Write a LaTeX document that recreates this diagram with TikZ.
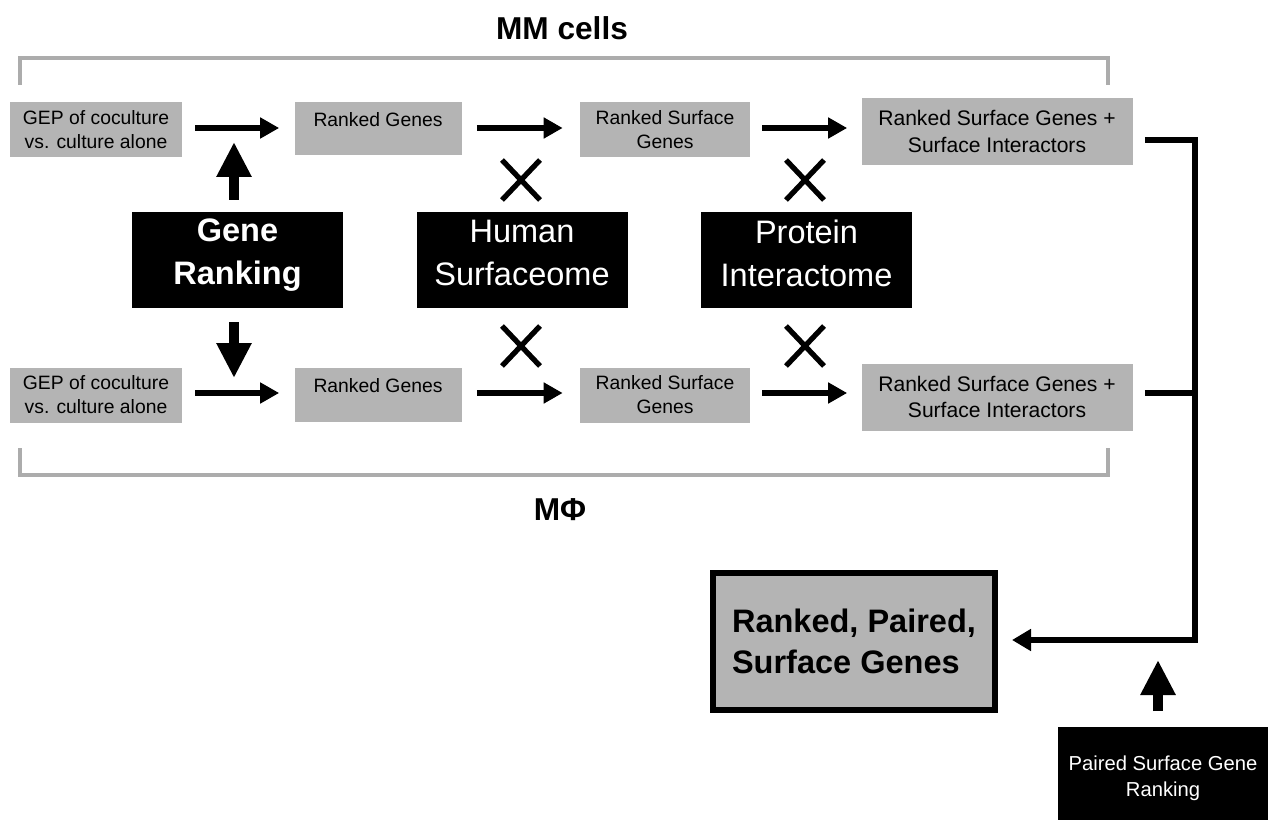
\documentclass[tikz,border=0pt]{standalone}
\usepackage{fontspec}
\setmainfont{Liberation Sans}
\usetikzlibrary{arrows.meta}

\definecolor{grigio}{RGB}{180,180,180}
\definecolor{grigiolinea}{RGB}{172,172,172}

\tikzset{
  scatola/.style={fill=grigio, text=black, align=center, inner sep=0pt, font=\fontsize{11}{13.6}\selectfont},
  nera/.style={fill=black, text=white, align=center, inner sep=0pt, minimum width=4.22cm, minimum height=1.92cm, font=\fontsize{18.5}{24.4}\selectfont},
  freccia/.style={-{Triangle[length=0.38cm,width=0.4cm]}, line width=3.4pt},
  frecciona/.style={-{Triangle[length=0.7cm,width=0.66cm]}, line width=6pt},
  linea/.style={line width=3pt, line join=miter},
  croce/.style={line width=3pt},
  parentesi/.style={draw=grigiolinea, line width=2pt}
}

\begin{document}
\begin{tikzpicture}
        \clip (0,0) rectangle (25.4,-16.4);

        % Titoli
        \node[font=\bfseries\fontsize{18}{22}\selectfont] (mm) at (11.24,-0.56) {MM cells};
        \node[font=\bfseries\fontsize{18}{22}\selectfont] (mf) at (11.2,-10.2) {MΦ};

        % Parentesi grigie
        \draw[parentesi] (0.4,-1.7) -- (0.4,-1.16) -- (22.16,-1.16) -- (22.16,-1.7);
        \draw[parentesi] (0.4,-8.96) -- (0.4,-9.5) -- (22.16,-9.5) -- (22.16,-8.96);

        % Riga superiore
        \node[scatola, minimum width=3.44cm, minimum height=1.1cm] (gep1) at (1.92,-2.6) {GEP of coculture\\vs. culture alone};
        \node[scatola, minimum width=3.34cm, minimum height=1.06cm] (rg1) at (7.56,-2.58) {Ranked Genes\\[-7pt]\strut};
        \node[scatola, minimum width=3.4cm, minimum height=1.1cm] (rsg1) at (13.3,-2.6) {Ranked Surface\\Genes};
        \node[scatola, minimum width=5.42cm, minimum height=1.34cm, font=\fontsize{12}{15}\selectfont] (rsi1) at (19.94,-2.63) {Ranked Surface Genes +\\Surface Interactors};

        % Riga inferiore
        \node[scatola, minimum width=3.44cm, minimum height=1.1cm] (gep2) at (1.92,-7.9) {GEP of coculture\\vs. culture alone};
        \node[scatola, minimum width=3.34cm, minimum height=1.08cm] (rg2) at (7.56,-7.9) {Ranked Genes\\[-7pt]\strut};
        \node[scatola, minimum width=3.4cm, minimum height=1.1cm] (rsg2) at (13.3,-7.9) {Ranked Surface\\Genes};
        \node[scatola, minimum width=5.42cm, minimum height=1.34cm, font=\fontsize{12}{15}\selectfont] (rsi2) at (19.94,-7.94) {Ranked Surface Genes +\\Surface Interactors};

        % Scatole nere
        \node[nera, font=\bfseries\fontsize{18.5}{24.4}\selectfont] (gr) at (4.75,-5.2) {Gene\\Ranking\\[-15.3pt]\mbox{}};
        \node[nera] (hs) at (10.44,-5.2) {Human\\Surfaceome\\[-16.5pt]\mbox{}};
        \node[nera] (pi) at (16.13,-5.2) {Protein\\Interactome\\[-16.5pt]\mbox{}};

        % Risultato finale
        \node[scatola, draw=black, line width=3.4pt, minimum width=5.64cm, minimum height=2.74cm, align=left, font=\bfseries\fontsize{18.5}{23}\selectfont] (fin) at (17.08,-12.83) {Ranked, Paired,\\Surface Genes};
        \node[fill=black, text=white, align=center, minimum width=4.2cm, minimum height=2.06cm, font=\fontsize{11.5}{15}\selectfont] (pr) at (23.26,-15.56) {Paired Surface Gene\\Ranking};

        % Frecce delle righe
        \draw[freccia, shorten <=0.26cm, shorten >=0.3cm] (gep1.east |- 0,-2.56) -- (rg1.west |- 0,-2.56);
        \draw[freccia, shorten <=0.3cm, shorten >=0.34cm] (rg1.east |- 0,-2.56) -- (rsg1.west |- 0,-2.56);
        \draw[freccia, shorten <=0.24cm, shorten >=0.28cm] (rsg1.east |- 0,-2.56) -- (rsi1.west |- 0,-2.56);
        \draw[freccia, shorten <=0.26cm, shorten >=0.3cm] (gep2.east |- 0,-7.86) -- (rg2.west |- 0,-7.86);
        \draw[freccia, shorten <=0.3cm, shorten >=0.34cm] (rg2.east |- 0,-7.86) -- (rsg2.west |- 0,-7.86);
        \draw[freccia, shorten <=0.24cm, shorten >=0.28cm] (rsg2.east |- 0,-7.86) -- (rsi2.west |- 0,-7.86);

        % Frecce grosse del Gene Ranking
        \coordinate (su) at (4.68,-2.84);
        \coordinate (giu) at (4.68,-7.56);
        \draw[frecciona, shorten <=0.24cm] (gr.north -| su) -- (su);
        \draw[frecciona, shorten <=0.28cm] (gr.south -| giu) -- (giu);

        % Croci
        \draw[croce] (10.04,-3.2) -- (10.8,-4.0) (10.04,-4.0) -- (10.8,-3.2);
        \draw[croce] (10.04,-6.52) -- (10.8,-7.32) (10.04,-7.32) -- (10.8,-6.52);
        \draw[croce] (15.72,-3.2) -- (16.48,-4.0) (15.72,-4.0) -- (16.48,-3.2);
        \draw[croce] (15.72,-6.52) -- (16.48,-7.32) (15.72,-7.32) -- (16.48,-6.52);

        % Collegamento verso il risultato
        \coordinate (gomito) at (23.9,-12.8);
        \draw[linea, -{Triangle[length=0.38cm,width=0.42cm]}, shorten >=0.28cm] ([xshift=0.24cm]rsi1.east |- 0,-2.8) -| (gomito) -- (gomito -| fin.east);
        \draw[linea] ([xshift=0.24cm]rsi2.east |- 0,-7.86) -- (gomito |- 0,-7.86);

        % Freccia dal Paired Surface Gene Ranking
        \coordinate (punta) at (23.16,-13.2);
        \draw[frecciona, shorten <=0.3cm] (pr.north -| punta) -- (punta);
\end{tikzpicture}
\end{document}
